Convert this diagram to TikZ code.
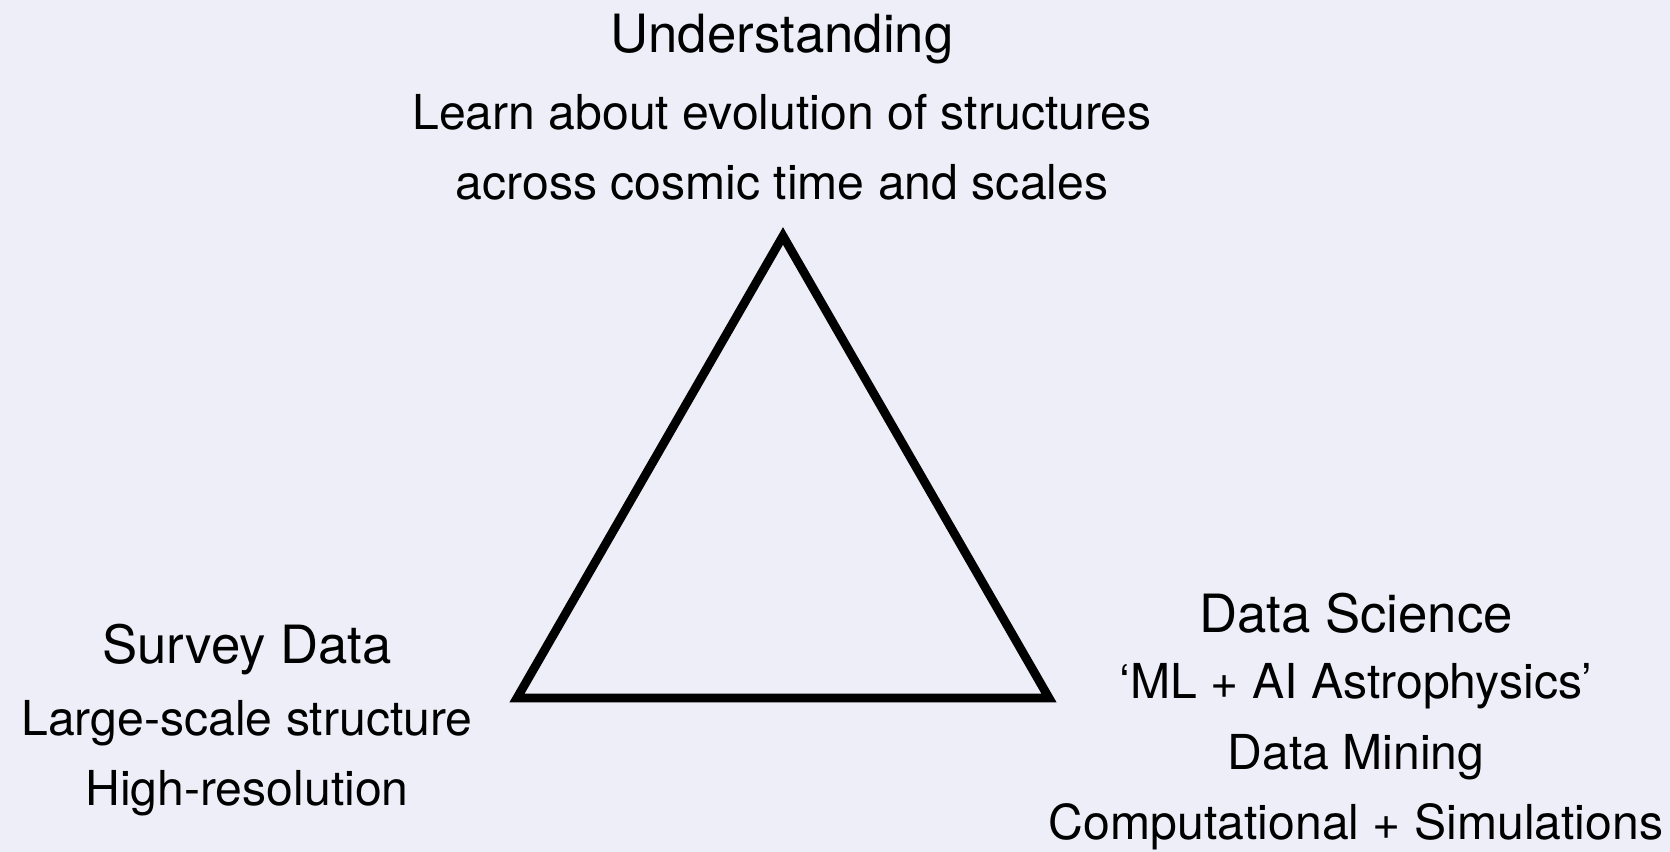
\documentclass[tikz,border=0pt]{standalone}
\usepackage{fontspec}
\setmainfont{TeX Gyre Heros}
\usetikzlibrary{positioning}
\usepackage{xcolor}
\definecolor{slidebg}{HTML}{EEEEF9}

\begin{document}
\begin{tikzpicture}[
    head/.style={font=\fontsize{15}{18}\selectfont, inner sep=0pt, align=center},
    desc/.style={font=\fontsize{13.7}{20}\selectfont, inner sep=0pt, align=center},
    tri/.style={draw=black, line width=2.5pt},
]

% background
\fill[slidebg] (0,0) rectangle (16.70,8.52);
\useasboundingbox (0,0) rectangle (16.70,8.52);

% corners of the triangle
\coordinate (top) at (7.83,6.16);
\coordinate (left) at (5.17,1.54);
\coordinate (right) at (10.49,1.54);

\draw[tri] (top) -- (left) -- (right) -- cycle;

% top corner
\node[head] (under) at (7.82,8.13) {Understanding};
\node[desc] (undertxt) at (7.82,7.05) {Learn about evolution of structures\\across cosmic time and scales};

% left corner
\node[head] (survey) at (2.47,2.02) {Survey Data};
\node[desc] (surveytxt) at (2.47,0.94) {Large-scale structure\\High-resolution};

% right corner
\node[head] (datasci) at (13.56,2.39) {Data Science};
\node[desc] (datascitxt) at (13.56,0.95) {`ML + AI Astrophysics'\\Data Mining\\Computational + Simulations};

\end{tikzpicture}
\end{document}
